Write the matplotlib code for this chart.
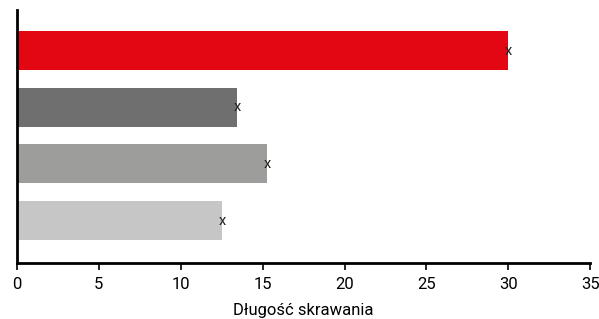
import matplotlib
matplotlib.use("Agg")
import matplotlib.pyplot as plt

plt.rcParams['font.family'] = ['Roboto', 'DejaVu Sans']

# values (top to bottom)
values = [30.0, 13.45, 15.27, 12.53]
colors = ['#E30613', '#706F6F', '#9D9D9C', '#C6C6C6']
markers = ['x', 'x', 'x', 'x']
xticks = [0, 5, 10, 15, 20, 25, 30, 35]

fig = plt.figure(figsize=(5.99, 3.19), dpi=100)
ax = fig.add_axes([0.0284, 0.1755, 0.957, 0.7932])

pos = list(range(len(values)))
ax.barh(pos, values, height=0.69, color=colors)
for p, v, m in zip(pos, values, markers):
    ax.text(v, p, m, ha='center', va='center', fontsize=10.5, color='#222222',
            fontstretch='condensed')

ax.set_ylim(3.75, -0.72)
ax.set_xlim(0, 35)
ax.set_xticks(xticks)
ax.set_yticks([])
ax.tick_params(axis='x', length=5, width=1.2, labelsize=12, pad=5)
for s in ['top', 'right']:
    ax.spines[s].set_visible(False)
ax.spines['left'].set_linewidth(2)
ax.spines['bottom'].set_linewidth(2)
ax.set_xlabel('Długość skrawania', fontsize=12, labelpad=8)

fig.savefig('out.png', dpi=100)
